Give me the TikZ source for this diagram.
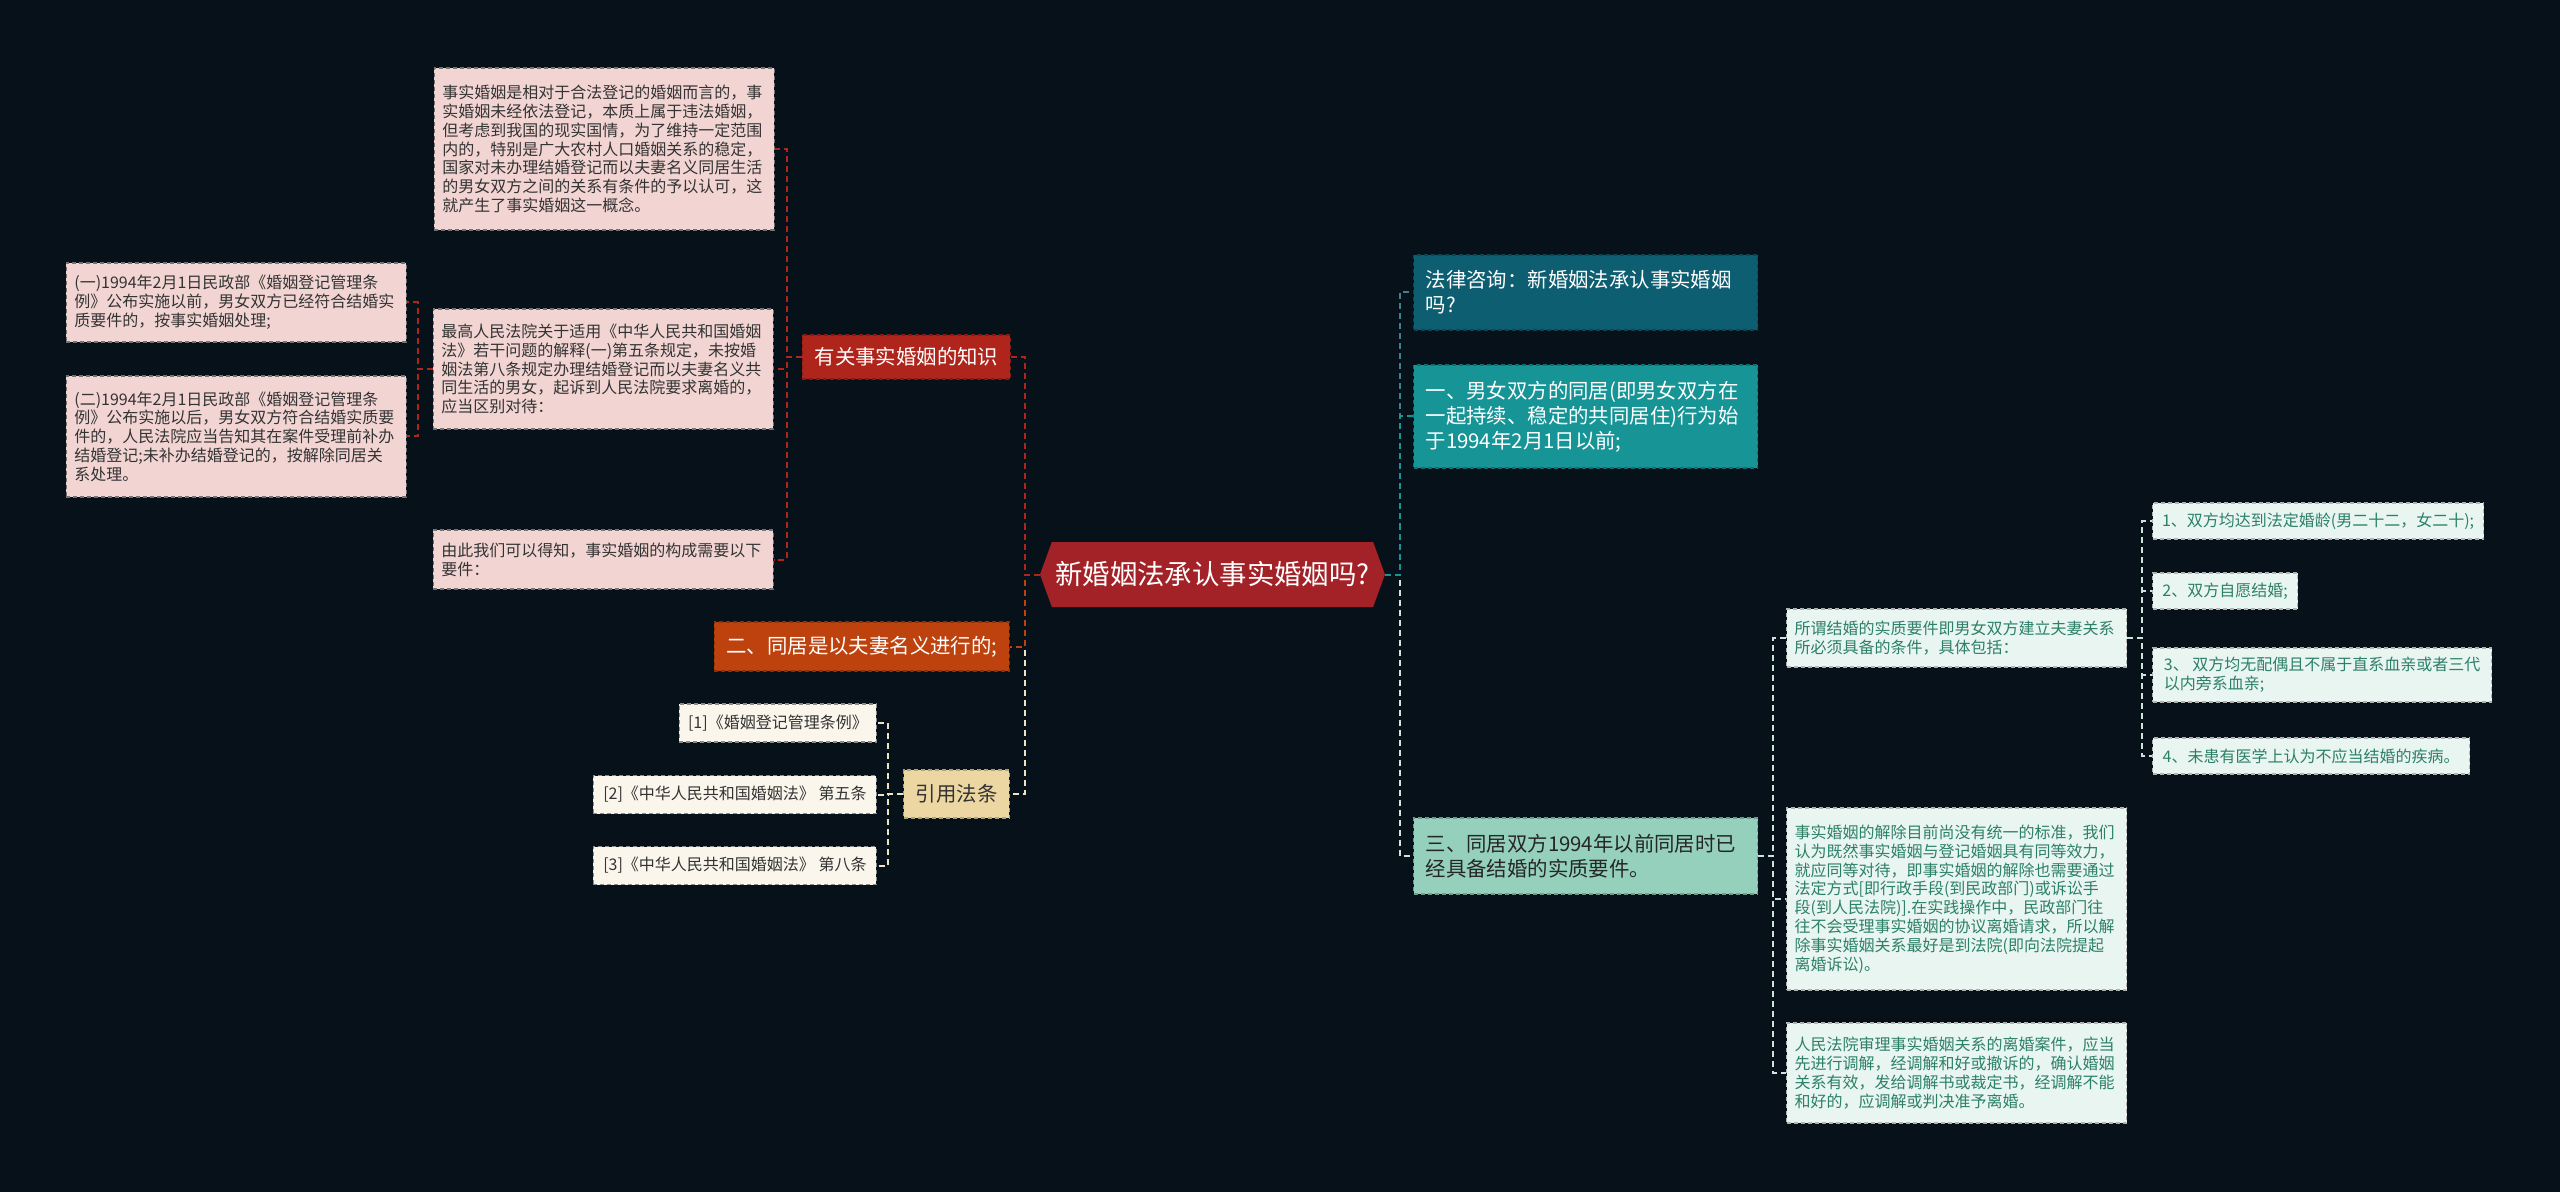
\documentclass[tikz,border=0pt]{standalone}
\usepackage{fontspec}
\setmainfont{Noto Sans CJK SC}
\usetikzlibrary{calc, shapes.symbols}

\definecolor{bgnavy}{RGB}{7,17,25}
\definecolor{hubred}{RGB}{163,34,40}
\definecolor{knowred}{RGB}{176,37,27}
\definecolor{cohaborange}{RGB}{190,66,14}
\definecolor{citetan}{RGB}{236,215,163}
\definecolor{notepink}{RGB}{242,213,211}
\definecolor{citecream}{RGB}{250,246,236}
\definecolor{consultteal}{RGB}{14,94,114}
\definecolor{firstteal}{RGB}{22,148,150}
\definecolor{thirdmint}{RGB}{148,208,188}
\definecolor{detailmint}{RGB}{233,245,241}
\definecolor{detailtext}{RGB}{44,128,104}
\definecolor{linkcream}{RGB}{238,228,196}
\definecolor{linklight}{RGB}{205,228,220}

\begin{document}
\begin{tikzpicture}[x=0.5pt, y=-0.5pt,
    hub/.style={
        signal,
        signal to=west and east,
        signal pointer angle=140,
        fill=hubred,
        text=white,
        minimum width=172.5pt,
        minimum height=32.5pt,
        inner sep=0pt,
        font=\fontsize{13.7pt}{16pt}\selectfont
    },
    topic/.style={
        rectangle,
        draw=#1!75!black,
        fill=#1,
        dash pattern=on 2pt off 1.5pt,
        line width=0.6pt,
        inner xsep=6pt,
        inner ysep=2pt,
        text=white,
        font=\fontsize{10.2pt}{12.5pt}\selectfont
    },
    note/.style={
        rectangle,
        draw=black!55,
        fill=notepink,
        dash pattern=on 2pt off 1.5pt,
        line width=0.6pt,
        inner xsep=4pt,
        inner ysep=2pt,
        text width=162pt,
        align=left,
        text=black!80,
        font=\fontsize{8pt}{9.4pt}\selectfont
    },
    detail/.style={
        note,
        draw=gray!60,
        fill=detailmint,
        text=detailtext
    },
    citebox/.style={
        rectangle,
        draw=black!45,
        fill=citecream,
        dash pattern=on 2pt off 1.5pt,
        line width=0.6pt,
        inner xsep=4pt,
        minimum height=19pt,
        text=black!80,
        font=\fontsize{8pt}{9.4pt}\selectfont
    },
    reqbox/.style={
        citebox,
        draw=gray!60,
        fill=detailmint,
        text=detailtext,
        minimum height=18pt
    },
    link/.style={
        draw=#1,
        line width=1pt,
        dash pattern=on 3pt off 2pt
    }
]

\fill[bgnavy] (0,0) rectangle (2560,1192);
\useasboundingbox (0,0) rectangle (2560,1192);

% =====================
% Central topic
% =====================

\node[hub] (hub) at (1212.5,574.5) {新婚姻法承认事实婚姻吗?};

% =====================
% Left branches
% =====================

\node[topic=knowred, anchor=east, minimum width=104pt, minimum height=22pt] (know) at (1011,357) {有关事实婚姻的知识};
\node[topic=cohaborange, anchor=east, minimum width=147.5pt, minimum height=24.5pt] (cohab) at (1010,646.5) {二、同居是以夫妻名义进行的;};
\node[topic=citetan, text=black!80, anchor=east, minimum width=51.5pt, minimum height=24pt] (cite) at (1010,794) {引用法条};

\node[note, anchor=east, minimum height=81pt] (fact) at (775,149) {
    事实婚姻是相对于合法登记的婚姻而言的，事\\
    实婚姻未经依法登记，本质上属于违法婚姻，\\
    但考虑到我国的现实国情，为了维持一定范围\\
    内的，特别是广大农村人口婚姻关系的稳定，\\
    国家对未办理结婚登记而以夫妻名义同居生活\\
    的男女双方之间的关系有条件的予以认可，这\\
    就产生了事实婚姻这一概念。
};

\node[note, anchor=east, minimum height=60pt] (court) at (774,369) {
    最高人民法院关于适用《中华人民共和国婚姻\\
    法》若干问题的解释(一)第五条规定，未按婚\\
    姻法第八条规定办理结婚登记而以夫妻名义共\\
    同生活的男女，起诉到人民法院要求离婚的，\\
    应当区别对待：
};

\node[note, anchor=east, minimum height=29.5pt] (hence) at (774,559.5) {
    由此我们可以得知，事实婚姻的构成需要以下\\
    要件：
};

\node[note, anchor=east, minimum height=39.5pt] (before) at (407,302.5) {
    (一)1994年2月1日民政部《婚姻登记管理条\\
    例》公布实施以前，男女双方已经符合结婚实\\
    质要件的，按事实婚姻处理;
};

\node[note, anchor=east, minimum height=60.5pt] (after) at (407,436.5) {
    (二)1994年2月1日民政部《婚姻登记管理条\\
    例》公布实施以后，男女双方符合结婚实质要\\
    件的，人民法院应当告知其在案件受理前补办\\
    结婚登记;未补办结婚登记的，按解除同居关\\
    系处理。
};

\node[citebox, anchor=east, minimum width=98.5pt] (cite1) at (877,723) {[1]《婚姻登记管理条例》};
\node[citebox, anchor=east, minimum width=141.5pt] (cite2) at (877,794.5) {[2]《中华人民共和国婚姻法》 第五条};
\node[citebox, anchor=east, minimum width=141.5pt] (cite3) at (877,865.5) {[3]《中华人民共和国婚姻法》 第八条};

% =====================
% Right branches
% =====================

\node[topic=consultteal, anchor=west, text width=160pt, align=left, minimum height=37.5pt] (consult) at (1413,292.5) {
    法律咨询：新婚姻法承认事实婚姻\\
    吗?
};

\node[topic=firstteal, anchor=west, text width=160pt, align=left, minimum height=51.5pt] (first) at (1413,416.5) {
    一、男女双方的同居(即男女双方在\\
    一起持续、稳定的共同居住)行为始\\
    于1994年2月1日以前;
};

\node[topic=thirdmint, text=black!85, anchor=west, text width=160pt, align=left, minimum height=38pt] (third) at (1413,856) {
    三、同居双方1994年以前同居时已\\
    经具备结婚的实质要件。
};

\node[detail, anchor=west, minimum height=29pt] (req) at (1786,638) {
    所谓结婚的实质要件即男女双方建立夫妻关系\\
    所必须具备的条件，具体包括：
};

\node[detail, anchor=west, minimum height=91pt] (dissolve) at (1786,899) {
    事实婚姻的解除目前尚没有统一的标准，我们\\
    认为既然事实婚姻与登记婚姻具有同等效力，\\
    就应同等对待，即事实婚姻的解除也需要通过\\
    法定方式[即行政手段(到民政部门)或诉讼手\\
    段(到人民法院)].在实践操作中，民政部门往\\
    往不会受理事实婚姻的协议离婚请求，所以解\\
    除事实婚姻关系最好是到法院(即向法院提起\\
    离婚诉讼)。
};

\node[detail, anchor=west, minimum height=50pt] (trial) at (1786,1073) {
    人民法院审理事实婚姻关系的离婚案件，应当\\
    先进行调解，经调解和好或撤诉的，确认婚姻\\
    关系有效，发给调解书或裁定书，经调解不能\\
    和好的，应调解或判决准予离婚。
};

\node[reqbox, anchor=west, minimum width=165.5pt] (age) at (2152,521) {1、双方均达到法定婚龄(男二十二，女二十);};
\node[reqbox, anchor=west, minimum width=72.5pt] (will) at (2152,591) {2、双方自愿结婚;};
\node[reqbox, anchor=west, minimum width=169.5pt, minimum height=27pt, align=left] (kin) at (2152,675) {3、 双方均无配偶且不属于直系血亲或者三代\\以内旁系血亲;};
\node[reqbox, anchor=west, minimum width=158.5pt] (health) at (2152,756) {4、未患有医学上认为不应当结婚的疾病。};

% =====================
% Connectors
% =====================

\coordinate (hubL) at ($(hub.west)+(-15,0)$);
\coordinate (hubR) at ($(hub.east)+(15,0)$);
\coordinate (knowL) at ($(know.west)+(-15,0)$);
\coordinate (courtL) at ($(court.west)+(-15,0)$);
\coordinate (citeL) at ($(cite.west)+(-15,0)$);
\coordinate (thirdR) at ($(third.east)+(15,0)$);
\coordinate (reqR) at ($(req.east)+(15,0)$);

\draw[link=linkcream] (hub.west) -- (hubL) |- (cite.east);
\draw[link=cohaborange] (hub.west) -- (hubL) |- (cohab.east);
\draw[link=knowred] (hub.west) -- (hubL) |- (know.east);

\draw[link=knowred] (know.west) -- (knowL) |- (fact.east);
\draw[link=knowred] (know.west) -- (knowL) |- (court.east);
\draw[link=knowred] (know.west) -- (knowL) |- (hence.east);

\draw[link=knowred] (court.west) -- (courtL) |- (before.east);
\draw[link=knowred] (court.west) -- (courtL) |- (after.east);

\draw[link=linkcream] (cite.west) -- (citeL) |- (cite1.east);
\draw[link=linkcream] (cite.west) -- (citeL) |- (cite2.east);
\draw[link=linkcream] (cite.west) -- (citeL) |- (cite3.east);

\draw[link=linklight] (hub.east) -- (hubR) |- (third.west);
\draw[link=consultteal!80!white] (hub.east) -- (hubR) |- (consult.west);
\draw[link=firstteal] (hub.east) -- (hubR) |- (first.west);

\draw[link=linklight] (third.east) -- (thirdR) |- (req.west);
\draw[link=linklight] (third.east) -- (thirdR) |- (dissolve.west);
\draw[link=linklight] (third.east) -- (thirdR) |- (trial.west);

\draw[link=linklight] (req.east) -- (reqR) |- (age.west);
\draw[link=linklight] (req.east) -- (reqR) |- (will.west);
\draw[link=linklight] (req.east) -- (reqR) |- (kin.west);
\draw[link=linklight] (req.east) -- (reqR) |- (health.west);

\end{tikzpicture}
\end{document}
